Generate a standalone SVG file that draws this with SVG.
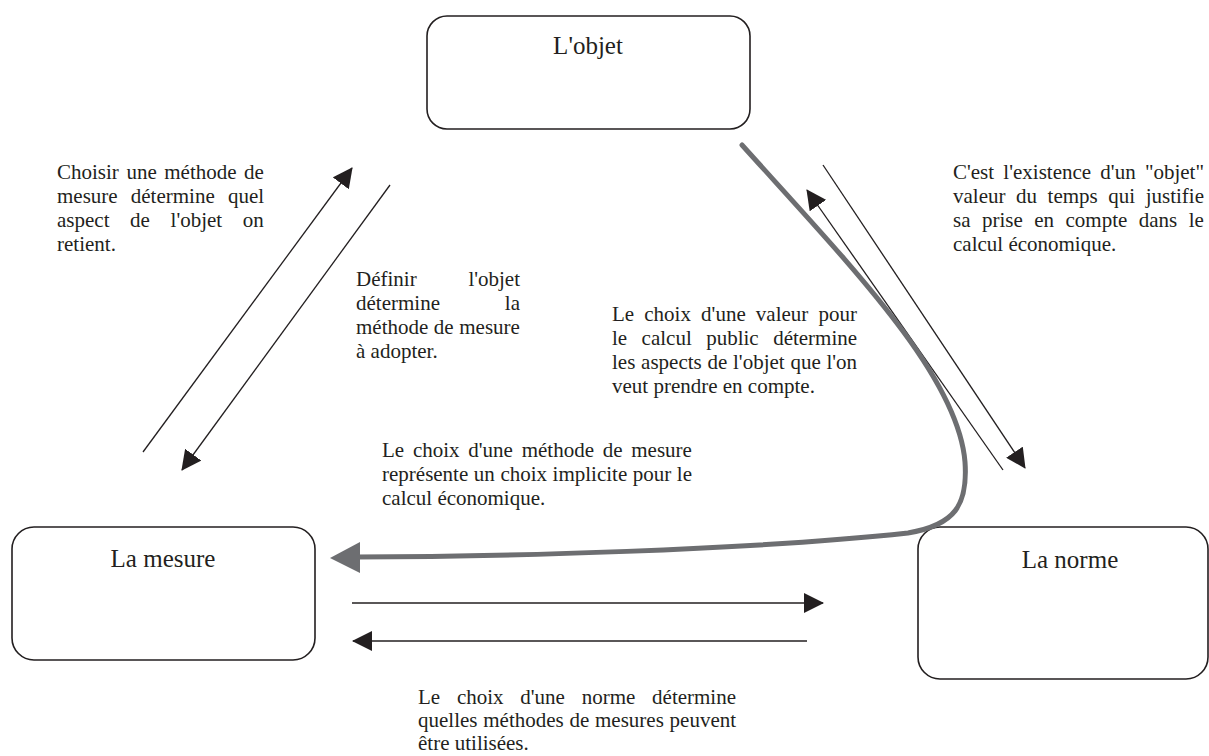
<svg xmlns="http://www.w3.org/2000/svg" width="1209" height="756" viewBox="0 0 1209 756">
<style>
.box{fill:#fff;stroke:#231f20;stroke-width:1.6}
.lbl{font-family:'Liberation Serif','Times New Roman',serif;font-size:25px;fill:#231f20;text-anchor:middle}
.t{font-family:'Liberation Serif','Times New Roman',serif;font-size:21px;fill:#231f20}
.ln{stroke:#231f20;stroke-width:1.3;fill:none}
.gray{stroke:#6d6e71;stroke-width:5;fill:none;stroke-linecap:round}
</style>
<defs>
<marker id="ah" markerUnits="userSpaceOnUse" markerWidth="20" markerHeight="20" refX="19" refY="10" orient="auto">
<path d="M0,0 L20,10 L0,20 z" fill="#231f20"/>
</marker>
</defs>
<rect width="1209" height="756" fill="#fff"/>
<g id="node-objet">
<rect class="box" x="427" y="16" width="323" height="113" rx="20"/>
<text class="lbl" x="588" y="54">L'objet</text>
</g>
<g id="node-mesure">
<rect class="box" x="12" y="527" width="303" height="133" rx="22"/>
<text class="lbl" x="163" y="567">La mesure</text>
</g>
<g id="node-norme">
<rect class="box" x="918" y="527" width="290" height="152" rx="22"/>
<text class="lbl" x="1070" y="568">La norme</text>
</g>
<g id="connectors">
<line class="ln" x1="143" y1="452" x2="352" y2="168" marker-end="url(#ah)"/>
<line class="ln" x1="390" y1="185" x2="182" y2="470" marker-end="url(#ah)"/>
<line class="ln" x1="1003" y1="470" x2="807" y2="190" marker-end="url(#ah)"/>
<line class="ln" x1="823" y1="165" x2="1025" y2="468" marker-end="url(#ah)"/>
<line class="ln" x1="352" y1="603" x2="823" y2="603" marker-end="url(#ah)"/>
<line class="ln" x1="807" y1="641" x2="353" y2="641" marker-end="url(#ah)"/>
<path class="gray" d="M742,145 C850,265 958,375 965,462 C968,505 955,525 908,533 C750,550 500,557 356,557"/>
<polygon points="330,558 360,542 360,573" fill="#6d6e71"/>
</g>
<g id="label-mesure-objet">
<text class="t" x="57" y="179" word-spacing="2.3">Choisir une méthode de</text>
<text class="t" x="57" y="203" word-spacing="7.9">mesure détermine quel</text>
<text class="t" x="57" y="227" word-spacing="15.4">aspect de l'objet on</text>
<text class="t" x="57" y="251">retient.</text>
</g>
<g id="label-objet-mesure">
<text class="t" x="356" y="286" word-spacing="46.5">Définir l'objet</text>
<text class="t" x="356" y="310" word-spacing="59.6">détermine la</text>
<text class="t" x="356" y="334" word-spacing="0.3">méthode de mesure</text>
<text class="t" x="356" y="358">à adopter.</text>
</g>
<g id="label-norme-objet">
<text class="t" x="953" y="179" word-spacing="4">C'est l'existence d'un "objet"</text>
<text class="t" x="953" y="203" word-spacing="5.3">valeur du temps qui justifie</text>
<text class="t" x="953" y="227" word-spacing="6.2">sa prise en compte dans le</text>
<text class="t" x="953" y="251">calcul économique.</text>
</g>
<g id="label-valeur">
<text class="t" x="612" y="321" word-spacing="4.9">Le choix d'une valeur pour</text>
<text class="t" x="612" y="345" word-spacing="9.2">le calcul public détermine</text>
<text class="t" x="612" y="369" word-spacing="0.5">les aspects de l'objet que l'on</text>
<text class="t" x="612" y="393">veut prendre en compte.</text>
</g>
<g id="label-mesure-norme">
<text class="t" x="382" y="457" word-spacing="3.5">Le choix d'une méthode de mesure</text>
<text class="t" x="382" y="481" word-spacing="0.3">représente un choix implicite pour le</text>
<text class="t" x="382" y="505">calcul économique.</text>
</g>
<g id="label-norme-mesure">
<text class="t" x="418" y="704" word-spacing="11.5">Le choix d'une norme détermine</text>
<text class="t" x="418" y="727" word-spacing="0.5">quelles méthodes de mesures peuvent</text>
<text class="t" x="418" y="750">être utilisées.</text>
</g>
</svg>
